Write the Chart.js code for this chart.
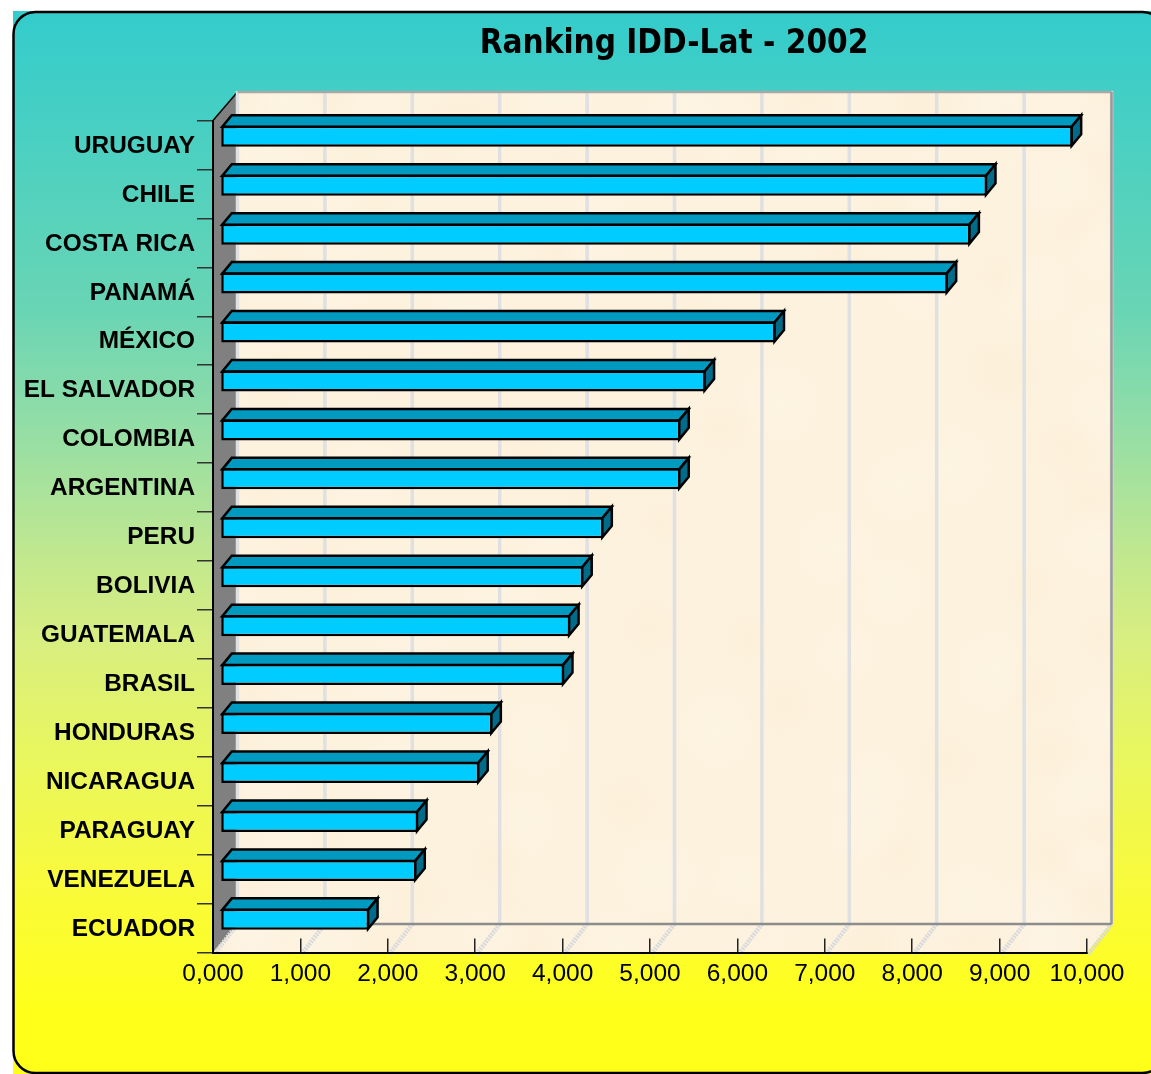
<!DOCTYPE html>
<html>
<head>
<meta charset="utf-8">
<style>html,body{margin:0;padding:0;background:#fff}canvas{display:block}</style>
<script src="https://cdn.jsdelivr.net/npm/chart.js@4"></script>
</head>
<body>
<canvas id="c" width="1151" height="1074"></canvas>
<script>
const chartTitle = 'Ranking IDD-Lat - 2002';
const countries = ['URUGUAY','CHILE','COSTA RICA','PANAMÁ','MÉXICO','EL SALVADOR','COLOMBIA','ARGENTINA','PERU','BOLIVIA','GUATEMALA','BRASIL','HONDURAS','NICARAGUA','PARAGUAY','VENEZUELA','ECUADOR'];
const iddValues = [9.75,8.77,8.58,8.32,6.35,5.55,5.26,5.26,4.38,4.15,4.00,3.93,3.11,2.96,2.26,2.24,1.70];
const axisMax = 10;
const axisStep = 1;

const WALL_DX = 24.5, WALL_DY = -28.5;
const BAR_SHIFT_X = 7.5, BAR_SHIFT_Y = -8.7;
const BAR_DX = 9.5, BAR_DY = -11.5;

function poly(ctx, pts, fill, stroke, lw){
  ctx.beginPath();
  pts.forEach((p,i)=> i ? ctx.lineTo(p[0],p[1]) : ctx.moveTo(p[0],p[1]));
  ctx.closePath();
  if(fill){ctx.fillStyle=fill;ctx.fill();}
  if(stroke){ctx.strokeStyle=stroke;ctx.lineWidth=lw;ctx.lineJoin='miter';ctx.stroke();}
}
function line(ctx,x1,y1,x2,y2,color,w,dash){
  ctx.save();ctx.beginPath();ctx.moveTo(x1,y1);ctx.lineTo(x2,y2);
  ctx.strokeStyle=color;ctx.lineWidth=w;ctx.setLineDash(dash||[]);ctx.stroke();ctx.restore();
}

const scenePlugin = {
  id:'scene',
  afterLayout(chart){
    const t = chart.titleBlock;
    t.left = 374; t.right = 974; t.width = 600;
  },
  beforeDraw(chart){
    const ctx = chart.ctx, a = chart.chartArea, xs = chart.scales.x;
    const L=a.left,R=a.right,T=a.top,B=a.bottom;
    ctx.save();
    // panel
    const g = ctx.createLinearGradient(0,11,0,1011);
    [[0,'#33cccc'],[0.299,'#69d5b4'],[0.424,'#96dea5'],[0.549,'#c3e88e'],[0.629,'#d8ee80'],[0.739,'#e8f660'],[0.869,'#f8fa3c'],[1,'#ffff1a']]
      .forEach(s=>g.addColorStop(s[0],s[1]));
    ctx.fillStyle=g; ctx.fillRect(13,11,1138,1063);
    ctx.beginPath();ctx.roundRect(13.5,12,1151,1061,22);
    ctx.strokeStyle='#000';ctx.lineWidth=2.5;ctx.stroke();
    // back wall + floor
    const wall=[[L+WALL_DX,T+WALL_DY],[R+WALL_DX,T+WALL_DY],[R+WALL_DX,B+WALL_DY],[R,B],[L,B],[L+WALL_DX,B+WALL_DY]];
    poly(ctx,wall,'#fdf2de');
    ctx.save();
    ctx.beginPath();wall.forEach((p,i)=> i?ctx.lineTo(p[0],p[1]):ctx.moveTo(p[0],p[1]));ctx.closePath();ctx.clip();
    for(let i=0;i<140;i++){
      const cx=L+ (R-L+WALL_DX)*(0.5+0.5*Math.sin(i*12.9898));
      const cy=T+WALL_DY+(B-T-WALL_DY)*(0.5+0.5*Math.sin(i*78.233));
      const r=18+26*(0.5+0.5*Math.sin(i*37.719));
      const rg=ctx.createRadialGradient(cx,cy,0,cx,cy,r);
      const c=i%2?'255,250,240':'250,234,206';
      rg.addColorStop(0,'rgba('+c+',0.22)');rg.addColorStop(1,'rgba('+c+',0)');
      ctx.fillStyle=rg;ctx.fillRect(cx-r,cy-r,2*r,2*r);
    }
    ctx.restore();
    // left wall
    poly(ctx,[[L,T],[L+WALL_DX,T+WALL_DY],[L+WALL_DX,B+WALL_DY],[L,B]],'#808080');
    line(ctx,L,T,L+WALL_DX,T+WALL_DY,'#000',1.5);
    // grid lines on back wall and floor
    xs.ticks.forEach(t=>{
      const x=xs.getPixelForValue(t.value);
      line(ctx,x+WALL_DX,T+WALL_DY-1,x+WALL_DX,B+WALL_DY,'#dfe0e2',3.5);
      line(ctx,x+WALL_DX,B+WALL_DY,x+1,B+2,'#d8d9de',4.5,[2,1]);
    });
    // wall outlines
    line(ctx,L+WALL_DX,T+WALL_DY,R+WALL_DX,T+WALL_DY,'#a8a8a8',2.5);
    line(ctx,R+WALL_DX,T+WALL_DY,R+WALL_DX,B+WALL_DY,'#989898',2.5);
    line(ctx,L+WALL_DX,B+WALL_DY,R+WALL_DX,B+WALL_DY,'#8c8c8c',2.5);
    ctx.restore();
  },
  beforeDatasetDraw(chart,args){
    const ctx=chart.ctx;
    ctx.save();
    ctx.translate(BAR_SHIFT_X,BAR_SHIFT_Y);
    args.meta.data.forEach(el=>{
      const {x,y,base,height}=el.getProps(['x','y','base','height'],true);
      const top=y-height/2+1, bot=y+height/2-1, r=x-1, l=base+1;
      poly(ctx,[[l,top],[l+BAR_DX,top+BAR_DY],[r+BAR_DX,top+BAR_DY],[r,top]],'#0099bf','#000',2.5);
      poly(ctx,[[r,top],[r+BAR_DX,top+BAR_DY],[r+BAR_DX,bot+BAR_DY],[r,bot]],'#006c8a','#000',2.5);
    });
  },
  afterDatasetDraw(chart){ chart.ctx.restore(); }
};

new Chart(document.getElementById('c'),{
  type:'bar',
  data:{labels:countries,datasets:[{
    label:'IDD-Lat 2002',
    data:iddValues,
    backgroundColor:'#00ccff',
    borderColor:'#000',
    borderWidth:2.5,
    borderSkipped:false,
    inflateAmount:0,
    barThickness:21,
    clip:false
  }]},
  options:{
    indexAxis:'y',
    responsive:false,
    animation:false,
    devicePixelRatio:1,
    layout:{padding:{left:0,right:64,top:0,bottom:0}},
    plugins:{
      legend:{display:false},
      tooltip:{enabled:false},
      title:{display:true,text:chartTitle,color:'#000',
        font:{family:'"DejaVu Sans Condensed","DejaVu Sans"',size:33,weight:'bold',lineHeight:1.2},
        padding:{top:25,bottom:55.9}}
    },
    scales:{
      x:{min:0,max:axisMax,position:'bottom',
        afterFit(s){s.height=121.5;},
        grid:{drawOnChartArea:false,drawTicks:true,tickLength:-14,color:'#222',lineWidth:1.5},
        border:{display:true,color:'#000',width:2},
        ticks:{stepSize:axisStep,maxRotation:0,autoSkip:false,padding:21,color:'#000',
          font:{family:'"Liberation Sans"',size:24.5},
          callback:v=>v.toFixed(3).replace('.',',')}
      },
      y:{
        afterFit(s){s.width=213;},
        grid:{drawOnChartArea:false,drawTicks:true,tickLength:16,color:'#333',lineWidth:1.5,offset:true},
        border:{display:true,color:'#000',width:2},
        ticks:{padding:2,labelOffset:1,autoSkip:false,color:'#000',
          font:{family:'"Liberation Sans"',size:24.4,weight:'bold'}}
      }
    }
  },
  plugins:[scenePlugin]
});
</script>
</body>
</html>
